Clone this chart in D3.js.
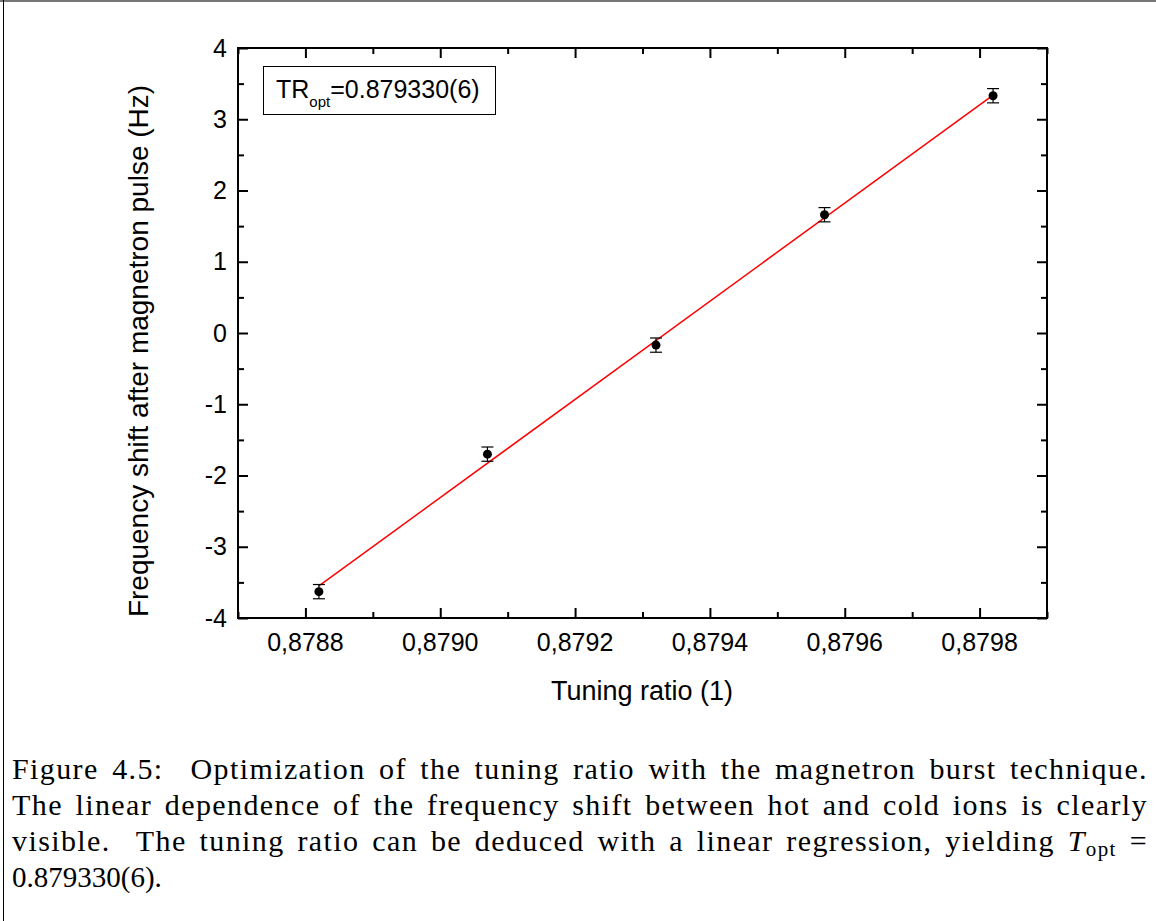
<!DOCTYPE html>
<html>
<head>
<meta charset="utf-8">
<script src="https://cdn.jsdelivr.net/npm/d3@7"></script>
<style>
  html, body { margin: 0; padding: 0; background: #fff; }
  svg { display: block; }
</style>
</head>
<body>
<svg id="chart" width="1156" height="921"></svg>
<script>
// ---- data ----
const tuningRatio = [0.87882, 0.87907, 0.87932, 0.87957, 0.87982];
const freqShift   = [-3.63, -1.70, -0.17, 1.66, 3.33];
const freqErr     = [0.10, 0.10, 0.10, 0.10, 0.10];
const fitX = [0.87882, 0.87982];
const fitY = [-3.55, 3.34];
const xTicks = [0.8788, 0.8790, 0.8792, 0.8794, 0.8796, 0.8798];
const xTickLabels = ["0,8788", "0,8790", "0,8792", "0,8794", "0,8796", "0,8798"];
const xMinorTicks = [0.8787, 0.8789, 0.8791, 0.8793, 0.8795, 0.8797, 0.8799];
const yTicks = [-4, -3, -2, -1, 0, 1, 2, 3, 4];
const yTickLabels = ["-4", "-3", "-2", "-1", "0", "1", "2", "3", "4"];
const yMinorTicks = [-3.5, -2.5, -1.5, -0.5, 0.5, 1.5, 2.5, 3.5];
const xTitle = "Tuning ratio (1)";
const yTitle = "Frequency shift after magnetron pulse (Hz)";
const captionLines = [
  "Figure 4.5:  Optimization of the tuning ratio with the magnetron burst technique.",
  "The linear dependence of the frequency shift between hot and cold ions is clearly",
  "visible.  The tuning ratio can be deduced with a linear regression, yielding "
];
const captionLast = "0.879330(6).";

// ---- layout ----
const svg = d3.select("#chart");
const L = 238, R = 1047, T = 48, B = 618;
const x = d3.scaleLinear().domain([0.8787, 0.8799]).range([L, R]);
const y = d3.scaleLinear().domain([-4, 4]).range([B, T]);

// page frame
svg.append("line").attr("x1", 0).attr("x2", 1156).attr("y1", 1).attr("y2", 1)
  .attr("stroke", "#777").attr("stroke-width", 2);
svg.append("line").attr("x1", 3.5).attr("x2", 3.5).attr("y1", 0).attr("y2", 921)
  .attr("stroke", "#000").attr("stroke-width", 1);

const sans = "'Liberation Sans', Arial, sans-serif";

function axisGroup(axis, tx, ty) {
  const g = svg.append("g").attr("transform", `translate(${tx},${ty})`).call(axis);
  g.select(".domain").remove();
  g.selectAll("text").remove();
  g.selectAll("line").attr("stroke", "#000").attr("stroke-width", 2);
  return g;
}
axisGroup(d3.axisBottom(x).tickValues(xTicks).tickSizeInner(-10).tickSizeOuter(0), 0, B);
axisGroup(d3.axisBottom(x).tickValues(xMinorTicks).tickSizeInner(-6).tickSizeOuter(0), 0, B);
axisGroup(d3.axisTop(x).tickValues(xTicks).tickSizeInner(-10).tickSizeOuter(0), 0, T);
axisGroup(d3.axisTop(x).tickValues(xMinorTicks).tickSizeInner(-6).tickSizeOuter(0), 0, T);
axisGroup(d3.axisLeft(y).tickValues(yTicks).tickSizeInner(-10).tickSizeOuter(0), L, 0);
axisGroup(d3.axisLeft(y).tickValues(yMinorTicks).tickSizeInner(-6).tickSizeOuter(0), L, 0);
axisGroup(d3.axisRight(y).tickValues(yTicks).tickSizeInner(-10).tickSizeOuter(0), R, 0);
axisGroup(d3.axisRight(y).tickValues(yMinorTicks).tickSizeInner(-6).tickSizeOuter(0), R, 0);

svg.append("rect").attr("x", L).attr("y", T).attr("width", R - L).attr("height", B - T)
  .attr("fill", "none").attr("stroke", "#000").attr("stroke-width", 2);

// tick labels
svg.append("g").selectAll("text").data(xTicks).join("text")
  .attr("x", d => x(d)).attr("y", 651)
  .attr("text-anchor", "middle")
  .style("font-family", sans).style("font-size", "25px")
  .text((d, i) => xTickLabels[i]);
svg.append("g").selectAll("text").data(yTicks).join("text")
  .attr("x", 227).attr("y", d => y(d) + 8.5)
  .attr("text-anchor", "end")
  .style("font-family", sans).style("font-size", "25px")
  .text((d, i) => yTickLabels[i]);

// axis titles
svg.append("text").attr("x", 642).attr("y", 700).attr("text-anchor", "middle")
  .style("font-family", sans).style("font-size", "27px").text(xTitle);
svg.append("text").attr("transform", "translate(148,351) rotate(-90)")
  .attr("text-anchor", "middle")
  .style("font-family", sans).style("font-size", "28px").text(yTitle);

// fit line
svg.append("line")
  .attr("x1", x(fitX[0])).attr("y1", y(fitY[0]))
  .attr("x2", x(fitX[1])).attr("y2", y(fitY[1]))
  .attr("stroke", "#ff0000").attr("stroke-width", 1.5);

// error bars + points
const pts = tuningRatio.map((d, i) => ({ x: d, y: freqShift[i], e: freqErr[i] }));
const eb = svg.append("g").attr("stroke", "#000").attr("stroke-width", 1.2);
eb.selectAll("line.v").data(pts).join("line").attr("class", "v")
  .attr("x1", d => x(d.x)).attr("x2", d => x(d.x))
  .attr("y1", d => y(d.y - d.e)).attr("y2", d => y(d.y + d.e));
eb.selectAll("line.t").data(pts).join("line").attr("class", "t")
  .attr("x1", d => x(d.x) - 6).attr("x2", d => x(d.x) + 6)
  .attr("y1", d => y(d.y + d.e)).attr("y2", d => y(d.y + d.e));
eb.selectAll("line.b").data(pts).join("line").attr("class", "b")
  .attr("x1", d => x(d.x) - 6).attr("x2", d => x(d.x) + 6)
  .attr("y1", d => y(d.y - d.e)).attr("y2", d => y(d.y - d.e));
svg.append("g").selectAll("circle").data(pts).join("circle")
  .attr("cx", d => x(d.x)).attr("cy", d => y(d.y)).attr("r", 4.5).attr("fill", "#000");

// legend box
svg.append("rect").attr("x", 263.5).attr("y", 66.5).attr("width", 232).attr("height", 48)
  .attr("fill", "#fff").attr("stroke", "#000").attr("stroke-width", 1);
const lt = svg.append("text").attr("x", 276).attr("y", 98)
  .style("font-family", sans).style("font-size", "25px");
lt.append("tspan").text("TR");
lt.append("tspan").attr("dy", 9).style("font-size", "15px").text("opt");
lt.append("tspan").attr("dy", -9).text("=0.879330(6)");

// caption, justified via word-spacing
const serif = "'Liberation Serif', 'DejaVu Serif', serif";
const capBase = [779, 815, 851];
const capLeft = 12, capRight = 1148;
const capFont = "30px", capLetter = "1.4px";
captionLines.forEach((line, i) => {
  const t = svg.append("text").attr("x", capLeft).attr("y", capBase[i])
    .attr("xml:space", "preserve")
    .style("white-space", "pre")
    .style("font-family", serif).style("font-size", capFont)
    .style("letter-spacing", capLetter);
  let nSpaces = (line.match(/ /g) || []).length;
  if (i === 2) {
    t.append("tspan").text(line);
    t.append("tspan").style("font-style", "italic").text("T");
    t.append("tspan").attr("dy", 5).style("font-size", "21px").text("opt");
    t.append("tspan").attr("dy", -5).text(" =");
    nSpaces += 1;
  } else {
    t.text(line);
  }
  const w = t.node().getComputedTextLength();
  const extra = (capRight - capLeft - w) / nSpaces;
  t.style("word-spacing", extra + "px");
});
svg.append("text").attr("x", capLeft).attr("y", 887)
  .style("font-family", serif).style("font-size", "29px")
  .text(captionLast);
</script>
</body>
</html>
